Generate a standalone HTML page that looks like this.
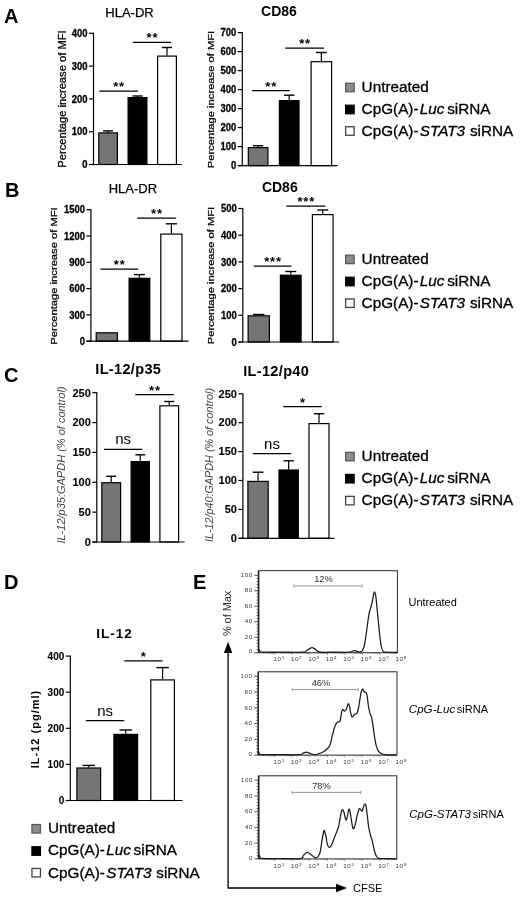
<!DOCTYPE html>
<html><head><meta charset="utf-8"><title>Figure</title>
<style>
html,body{margin:0;padding:0;background:#fff;}
body{width:520px;height:897px;overflow:hidden;}
svg{display:block;font-family:'Liberation Sans', Arial, sans-serif;}
</style></head><body>
<svg width="520" height="897" viewBox="0 0 520 897">
<rect width="520" height="897" fill="#fff"/>
<text x="4" y="22.7" font-size="20" font-weight="bold" font-style="normal" text-anchor="start" fill="#000" >A</text>
<text x="5" y="197.1" font-size="20" font-weight="bold" font-style="normal" text-anchor="start" fill="#000" >B</text>
<text x="3.9" y="382.4" font-size="20" font-weight="bold" font-style="normal" text-anchor="start" fill="#000" >C</text>
<text x="3.9" y="588.7" font-size="20" font-weight="bold" font-style="normal" text-anchor="start" fill="#000" >D</text>
<text x="193.1" y="589.2" font-size="20" font-weight="bold" font-style="normal" text-anchor="start" fill="#000" >E</text>
<text x="129.5" y="17.3" font-size="13" font-weight="normal" font-style="normal" text-anchor="middle" fill="#000" stroke="#000" stroke-width="0.25">HLA-DR</text>
<text transform="translate(66,99) rotate(-90) scale(1,0.94)" font-size="11.2" font-weight="normal" font-style="normal" text-anchor="middle" fill="#000" stroke="#000" stroke-width="0.3">Percentage increase of MFI</text>
<line x1="108.1" y1="132.3" x2="108.1" y2="130.9" stroke="#000" stroke-width="1.2"/>
<line x1="103.14999999999999" y1="130.9" x2="113.05" y2="130.9" stroke="#000" stroke-width="1.4"/>
<rect x="98.8" y="132.9" width="18.599999999999998" height="31.599999999999987" fill="#757575" stroke="#000" stroke-width="1.2"/>
<line x1="137.5" y1="97" x2="137.5" y2="96" stroke="#000" stroke-width="1.2"/>
<line x1="132.5" y1="96" x2="142.5" y2="96" stroke="#000" stroke-width="1.4"/>
<rect x="128.1" y="97.6" width="18.8" height="66.9" fill="#000" stroke="#000" stroke-width="1.2"/>
<line x1="167.0" y1="55.5" x2="167.0" y2="47.5" stroke="#000" stroke-width="1.2"/>
<line x1="162.0" y1="47.5" x2="172.0" y2="47.5" stroke="#000" stroke-width="1.4"/>
<rect x="157.6" y="56.1" width="18.8" height="108.4" fill="#fff" stroke="#000" stroke-width="1.2"/>
<line x1="93.5" y1="32.699999999999996" x2="93.5" y2="165.1" stroke="#000" stroke-width="1.2"/>
<line x1="89.0" y1="164.5" x2="182" y2="164.5" stroke="#000" stroke-width="1.2"/>
<line x1="89.0" y1="164.5" x2="93.5" y2="164.5" stroke="#000" stroke-width="1.2"/>
<text transform="translate(87.5,168.12) scale(0.9,1)" font-size="10.5" font-weight="bold" text-anchor="end" stroke="#000" stroke-width="0.3">0</text>
<line x1="89.0" y1="131.7" x2="93.5" y2="131.7" stroke="#000" stroke-width="1.2"/>
<text transform="translate(87.5,135.32) scale(0.9,1)" font-size="10.5" font-weight="bold" text-anchor="end" stroke="#000" stroke-width="0.3">100</text>
<line x1="89.0" y1="98.9" x2="93.5" y2="98.9" stroke="#000" stroke-width="1.2"/>
<text transform="translate(87.5,102.52) scale(0.9,1)" font-size="10.5" font-weight="bold" text-anchor="end" stroke="#000" stroke-width="0.3">200</text>
<line x1="89.0" y1="66.1" x2="93.5" y2="66.1" stroke="#000" stroke-width="1.2"/>
<text transform="translate(87.5,69.72) scale(0.9,1)" font-size="10.5" font-weight="bold" text-anchor="end" stroke="#000" stroke-width="0.3">300</text>
<line x1="89.0" y1="33.3" x2="93.5" y2="33.3" stroke="#000" stroke-width="1.2"/>
<text transform="translate(87.5,36.92) scale(0.9,1)" font-size="10.5" font-weight="bold" text-anchor="end" stroke="#000" stroke-width="0.3">400</text>
<line x1="99.25" y1="91" x2="138" y2="91" stroke="#000" stroke-width="1.25"/>
<text x="119.025" y="91.2" font-size="13" font-weight="bold" font-style="normal" text-anchor="middle" fill="#000" letter-spacing="0.8">**</text>
<line x1="133" y1="42.25" x2="171" y2="42.25" stroke="#000" stroke-width="1.25"/>
<text x="152.4" y="42.45" font-size="13" font-weight="bold" font-style="normal" text-anchor="middle" fill="#000" letter-spacing="0.8">**</text>
<text x="279" y="16" font-size="14" font-weight="bold" font-style="normal" text-anchor="middle" fill="#000" >CD86</text>
<text transform="translate(213.9,99.5) rotate(-90) scale(1,0.8)" font-size="11.2" font-weight="normal" font-style="normal" text-anchor="middle" fill="#000" stroke="#000" stroke-width="0.3">Percentage increase of MFI</text>
<line x1="258.1" y1="147" x2="258.1" y2="145.7" stroke="#000" stroke-width="1.2"/>
<line x1="252.90000000000003" y1="145.7" x2="263.3" y2="145.7" stroke="#000" stroke-width="1.4"/>
<rect x="248.29999999999998" y="147.6" width="19.600000000000012" height="17.999999999999993" fill="#757575" stroke="#000" stroke-width="1.2"/>
<line x1="289.20000000000005" y1="100" x2="289.20000000000005" y2="95.2" stroke="#000" stroke-width="1.2"/>
<line x1="284.00000000000006" y1="95.2" x2="294.40000000000003" y2="95.2" stroke="#000" stroke-width="1.4"/>
<rect x="279.40000000000003" y="100.6" width="19.600000000000012" height="65.0" fill="#000" stroke="#000" stroke-width="1.2"/>
<line x1="321.35" y1="61.1" x2="321.35" y2="52.5" stroke="#000" stroke-width="1.2"/>
<line x1="315.925" y1="52.5" x2="326.77500000000003" y2="52.5" stroke="#000" stroke-width="1.4"/>
<rect x="311.1" y="61.7" width="20.49999999999999" height="103.9" fill="#fff" stroke="#000" stroke-width="1.2"/>
<line x1="242.3" y1="31.999999999999993" x2="242.3" y2="166.2" stroke="#000" stroke-width="1.2"/>
<line x1="237.8" y1="165.6" x2="337.5" y2="165.6" stroke="#000" stroke-width="1.2"/>
<line x1="237.8" y1="165.6" x2="242.3" y2="165.6" stroke="#000" stroke-width="1.2"/>
<text transform="translate(236.3,169.22) scale(0.9,1)" font-size="10.5" font-weight="bold" text-anchor="end" stroke="#000" stroke-width="0.3">0</text>
<line x1="237.8" y1="146.6" x2="242.3" y2="146.6" stroke="#000" stroke-width="1.2"/>
<text transform="translate(236.3,150.22) scale(0.9,1)" font-size="10.5" font-weight="bold" text-anchor="end" stroke="#000" stroke-width="0.3">100</text>
<line x1="237.8" y1="127.6" x2="242.3" y2="127.6" stroke="#000" stroke-width="1.2"/>
<text transform="translate(236.3,131.22) scale(0.9,1)" font-size="10.5" font-weight="bold" text-anchor="end" stroke="#000" stroke-width="0.3">200</text>
<line x1="237.8" y1="108.6" x2="242.3" y2="108.6" stroke="#000" stroke-width="1.2"/>
<text transform="translate(236.3,112.22) scale(0.9,1)" font-size="10.5" font-weight="bold" text-anchor="end" stroke="#000" stroke-width="0.3">300</text>
<line x1="237.8" y1="89.6" x2="242.3" y2="89.6" stroke="#000" stroke-width="1.2"/>
<text transform="translate(236.3,93.22) scale(0.9,1)" font-size="10.5" font-weight="bold" text-anchor="end" stroke="#000" stroke-width="0.3">400</text>
<line x1="237.8" y1="70.6" x2="242.3" y2="70.6" stroke="#000" stroke-width="1.2"/>
<text transform="translate(236.3,74.22) scale(0.9,1)" font-size="10.5" font-weight="bold" text-anchor="end" stroke="#000" stroke-width="0.3">500</text>
<line x1="237.8" y1="51.599999999999994" x2="242.3" y2="51.599999999999994" stroke="#000" stroke-width="1.2"/>
<text transform="translate(236.3,55.22) scale(0.9,1)" font-size="10.5" font-weight="bold" text-anchor="end" stroke="#000" stroke-width="0.3">600</text>
<line x1="237.8" y1="32.599999999999994" x2="242.3" y2="32.599999999999994" stroke="#000" stroke-width="1.2"/>
<text transform="translate(236.3,36.22) scale(0.9,1)" font-size="10.5" font-weight="bold" text-anchor="end" stroke="#000" stroke-width="0.3">700</text>
<line x1="252" y1="90.6" x2="289.5" y2="90.6" stroke="#000" stroke-width="1.25"/>
<text x="271.15" y="90.8" font-size="13" font-weight="bold" font-style="normal" text-anchor="middle" fill="#000" letter-spacing="0.8">**</text>
<line x1="285.2" y1="48.2" x2="324.1" y2="48.2" stroke="#000" stroke-width="1.25"/>
<text x="305.04999999999995" y="48.400000000000006" font-size="13" font-weight="bold" font-style="normal" text-anchor="middle" fill="#000" letter-spacing="0.8">**</text>
<rect x="345.65" y="83.25" width="8.5" height="8.5" fill="#8c8c8c" stroke="#5a5a5a" stroke-width="1.3"/>
<text x="361.6" y="91.9" font-size="15.3" font-weight="normal" font-style="normal" text-anchor="start" fill="#000" stroke="#000" stroke-width="0.3">Untreated</text>
<rect x="345.65" y="105.25" width="8.5" height="8.5" fill="#000" stroke="#000" stroke-width="1.3"/>
<text x="361.6" y="114.0" font-size="15.3" font-weight="normal" font-style="normal" text-anchor="start" fill="#000" stroke="#000" stroke-width="0.3">CpG(A)-<tspan font-style="italic" x="419.8">Luc</tspan><tspan x="447.20000000000005">siRNA</tspan></text>
<rect x="345.65" y="126.75" width="8.5" height="8.5" fill="#fff" stroke="#444" stroke-width="1.3"/>
<text x="361.6" y="136.1" font-size="15.3" font-weight="normal" font-style="normal" text-anchor="start" fill="#000" stroke="#000" stroke-width="0.3">CpG(A)-<tspan font-style="italic" x="419.8">STAT3</tspan><tspan x="469.90000000000003">siRNA</tspan></text>
<text x="132.9" y="193" font-size="13" font-weight="normal" font-style="normal" text-anchor="middle" fill="#000" stroke="#000" stroke-width="0.25">HLA-DR</text>
<text transform="translate(57.2,276) rotate(-90) scale(1,0.86)" font-size="11.2" font-weight="normal" font-style="normal" text-anchor="middle" fill="#000" stroke="#000" stroke-width="0.3">Percentage increase of MFI</text>
<rect x="96.19999999999999" y="332.8" width="21.200000000000006" height="8.4" fill="#757575" stroke="#000" stroke-width="1.2"/>
<line x1="139.45" y1="277.7" x2="139.45" y2="274.6" stroke="#000" stroke-width="1.2"/>
<line x1="133.975" y1="274.6" x2="144.92499999999998" y2="274.6" stroke="#000" stroke-width="1.4"/>
<rect x="129.1" y="278.3" width="20.700000000000006" height="62.9" fill="#000" stroke="#000" stroke-width="1.2"/>
<line x1="171.39999999999998" y1="233.5" x2="171.39999999999998" y2="223.8" stroke="#000" stroke-width="1.2"/>
<line x1="165.79999999999998" y1="223.8" x2="176.99999999999997" y2="223.8" stroke="#000" stroke-width="1.4"/>
<rect x="160.79999999999998" y="234.1" width="21.200000000000006" height="107.1" fill="#fff" stroke="#000" stroke-width="1.2"/>
<line x1="90.9" y1="209.1" x2="90.9" y2="341.8" stroke="#000" stroke-width="1.2"/>
<line x1="86.4" y1="341.2" x2="188.5" y2="341.2" stroke="#000" stroke-width="1.2"/>
<line x1="86.4" y1="341.2" x2="90.9" y2="341.2" stroke="#000" stroke-width="1.2"/>
<text transform="translate(84.9,344.82) scale(0.9,1)" font-size="10.5" font-weight="bold" text-anchor="end" stroke="#000" stroke-width="0.3">0</text>
<line x1="86.4" y1="314.9" x2="90.9" y2="314.9" stroke="#000" stroke-width="1.2"/>
<text transform="translate(84.9,318.52) scale(0.9,1)" font-size="10.5" font-weight="bold" text-anchor="end" stroke="#000" stroke-width="0.3">300</text>
<line x1="86.4" y1="288.59999999999997" x2="90.9" y2="288.59999999999997" stroke="#000" stroke-width="1.2"/>
<text transform="translate(84.9,292.22) scale(0.9,1)" font-size="10.5" font-weight="bold" text-anchor="end" stroke="#000" stroke-width="0.3">600</text>
<line x1="86.4" y1="262.29999999999995" x2="90.9" y2="262.29999999999995" stroke="#000" stroke-width="1.2"/>
<text transform="translate(84.9,265.92) scale(0.9,1)" font-size="10.5" font-weight="bold" text-anchor="end" stroke="#000" stroke-width="0.3">900</text>
<line x1="86.4" y1="236.0" x2="90.9" y2="236.0" stroke="#000" stroke-width="1.2"/>
<text transform="translate(84.9,239.62) scale(0.9,1)" font-size="10.5" font-weight="bold" text-anchor="end" stroke="#000" stroke-width="0.3">1200</text>
<line x1="86.4" y1="209.7" x2="90.9" y2="209.7" stroke="#000" stroke-width="1.2"/>
<text transform="translate(84.9,213.32) scale(0.9,1)" font-size="10.5" font-weight="bold" text-anchor="end" stroke="#000" stroke-width="0.3">1500</text>
<line x1="100.3" y1="269.2" x2="138.3" y2="269.2" stroke="#000" stroke-width="1.25"/>
<text x="119.70000000000002" y="269.4" font-size="13" font-weight="bold" font-style="normal" text-anchor="middle" fill="#000" letter-spacing="0.8">**</text>
<line x1="137.3" y1="218.2" x2="175.8" y2="218.2" stroke="#000" stroke-width="1.25"/>
<text x="156.95000000000002" y="218.39999999999998" font-size="13" font-weight="bold" font-style="normal" text-anchor="middle" fill="#000" letter-spacing="0.8">**</text>
<text x="279.8" y="191.5" font-size="14" font-weight="bold" font-style="normal" text-anchor="middle" fill="#000" >CD86</text>
<text transform="translate(214.3,275.5) rotate(-90) scale(1,0.78)" font-size="11.2" font-weight="normal" font-style="normal" text-anchor="middle" fill="#000" stroke="#000" stroke-width="0.3">Percentage increase of MFI</text>
<line x1="258.75" y1="315.2" x2="258.75" y2="314.5" stroke="#000" stroke-width="1.2"/>
<line x1="253.125" y1="314.5" x2="264.375" y2="314.5" stroke="#000" stroke-width="1.4"/>
<rect x="248.1" y="315.8" width="21.3" height="26.20000000000001" fill="#757575" stroke="#000" stroke-width="1.2"/>
<line x1="290.75" y1="274.6" x2="290.75" y2="271.5" stroke="#000" stroke-width="1.2"/>
<line x1="285.275" y1="271.5" x2="296.225" y2="271.5" stroke="#000" stroke-width="1.4"/>
<rect x="280.40000000000003" y="275.20000000000005" width="20.699999999999978" height="66.79999999999998" fill="#000" stroke="#000" stroke-width="1.2"/>
<line x1="322.75" y1="214" x2="322.75" y2="210" stroke="#000" stroke-width="1.2"/>
<line x1="317.275" y1="210" x2="328.225" y2="210" stroke="#000" stroke-width="1.4"/>
<rect x="312.40000000000003" y="214.6" width="20.699999999999978" height="127.4" fill="#fff" stroke="#000" stroke-width="1.2"/>
<line x1="242.8" y1="207.9" x2="242.8" y2="342.6" stroke="#000" stroke-width="1.2"/>
<line x1="238.3" y1="342" x2="339" y2="342" stroke="#000" stroke-width="1.2"/>
<line x1="238.3" y1="342.0" x2="242.8" y2="342.0" stroke="#000" stroke-width="1.2"/>
<text transform="translate(236.8,345.62) scale(0.9,1)" font-size="10.5" font-weight="bold" text-anchor="end" stroke="#000" stroke-width="0.3">0</text>
<line x1="238.3" y1="315.3" x2="242.8" y2="315.3" stroke="#000" stroke-width="1.2"/>
<text transform="translate(236.8,318.92) scale(0.9,1)" font-size="10.5" font-weight="bold" text-anchor="end" stroke="#000" stroke-width="0.3">100</text>
<line x1="238.3" y1="288.6" x2="242.8" y2="288.6" stroke="#000" stroke-width="1.2"/>
<text transform="translate(236.8,292.22) scale(0.9,1)" font-size="10.5" font-weight="bold" text-anchor="end" stroke="#000" stroke-width="0.3">200</text>
<line x1="238.3" y1="261.9" x2="242.8" y2="261.9" stroke="#000" stroke-width="1.2"/>
<text transform="translate(236.8,265.52) scale(0.9,1)" font-size="10.5" font-weight="bold" text-anchor="end" stroke="#000" stroke-width="0.3">300</text>
<line x1="238.3" y1="235.2" x2="242.8" y2="235.2" stroke="#000" stroke-width="1.2"/>
<text transform="translate(236.8,238.82) scale(0.9,1)" font-size="10.5" font-weight="bold" text-anchor="end" stroke="#000" stroke-width="0.3">400</text>
<line x1="238.3" y1="208.5" x2="242.8" y2="208.5" stroke="#000" stroke-width="1.2"/>
<text transform="translate(236.8,212.12) scale(0.9,1)" font-size="10.5" font-weight="bold" text-anchor="end" stroke="#000" stroke-width="0.3">500</text>
<line x1="253.7" y1="266" x2="291.5" y2="266" stroke="#000" stroke-width="1.25"/>
<text x="273.0" y="266.2" font-size="13" font-weight="bold" font-style="normal" text-anchor="middle" fill="#000" letter-spacing="0.8">***</text>
<line x1="286.3" y1="206" x2="325.4" y2="206" stroke="#000" stroke-width="1.25"/>
<text x="306.25" y="206.2" font-size="13" font-weight="bold" font-style="normal" text-anchor="middle" fill="#000" letter-spacing="0.8">***</text>
<rect x="345.65" y="255.14999999999998" width="8.5" height="8.5" fill="#8c8c8c" stroke="#5a5a5a" stroke-width="1.3"/>
<text x="361.6" y="263.8" font-size="15.3" font-weight="normal" font-style="normal" text-anchor="start" fill="#000" stroke="#000" stroke-width="0.3">Untreated</text>
<rect x="345.65" y="277.25" width="8.5" height="8.5" fill="#000" stroke="#000" stroke-width="1.3"/>
<text x="361.6" y="286.1" font-size="15.3" font-weight="normal" font-style="normal" text-anchor="start" fill="#000" stroke="#000" stroke-width="0.3">CpG(A)-<tspan font-style="italic" x="419.8">Luc</tspan><tspan x="447.20000000000005">siRNA</tspan></text>
<rect x="345.65" y="298.95" width="8.5" height="8.5" fill="#fff" stroke="#444" stroke-width="1.3"/>
<text x="361.6" y="308.2" font-size="15.3" font-weight="normal" font-style="normal" text-anchor="start" fill="#000" stroke="#000" stroke-width="0.3">CpG(A)-<tspan font-style="italic" x="419.8">STAT3</tspan><tspan x="469.90000000000003">siRNA</tspan></text>
<text x="128.3" y="374.2" font-size="14.5" font-weight="bold" font-style="normal" text-anchor="middle" fill="#000" letter-spacing="0.35">IL-12/p35</text>
<text transform="translate(65,465) rotate(-90) scale(1,1.0)" font-size="11" font-weight="normal" font-style="italic" text-anchor="middle" fill="#444" >IL-12/p35:GAPDH (% of control)</text>
<line x1="111.2" y1="482.1" x2="111.2" y2="476.3" stroke="#000" stroke-width="1.2"/>
<line x1="106.2" y1="476.3" x2="116.2" y2="476.3" stroke="#000" stroke-width="1.4"/>
<rect x="101.8" y="482.70000000000005" width="18.8" height="59.299999999999976" fill="#757575" stroke="#000" stroke-width="1.2"/>
<line x1="140.25" y1="461" x2="140.25" y2="454.8" stroke="#000" stroke-width="1.2"/>
<line x1="135.375" y1="454.8" x2="145.125" y2="454.8" stroke="#000" stroke-width="1.4"/>
<rect x="131.1" y="461.6" width="18.3" height="80.4" fill="#000" stroke="#000" stroke-width="1.2"/>
<line x1="169.25" y1="405.2" x2="169.25" y2="401.5" stroke="#000" stroke-width="1.2"/>
<line x1="164.275" y1="401.5" x2="174.225" y2="401.5" stroke="#000" stroke-width="1.4"/>
<rect x="159.9" y="405.8" width="18.699999999999978" height="136.20000000000002" fill="#fff" stroke="#000" stroke-width="1.2"/>
<line x1="96.8" y1="392.09999999999997" x2="96.8" y2="542.6" stroke="#000" stroke-width="1.2"/>
<line x1="92.3" y1="542" x2="184.6" y2="542" stroke="#000" stroke-width="1.2"/>
<line x1="92.3" y1="542.0" x2="96.8" y2="542.0" stroke="#000" stroke-width="1.2"/>
<text transform="translate(90.8,545.79) scale(1.0,1)" font-size="11" font-weight="bold" text-anchor="end" stroke="#000" stroke-width="0.1">0</text>
<line x1="92.3" y1="512.14" x2="96.8" y2="512.14" stroke="#000" stroke-width="1.2"/>
<text transform="translate(90.8,515.93) scale(1.0,1)" font-size="11" font-weight="bold" text-anchor="end" stroke="#000" stroke-width="0.1">50</text>
<line x1="92.3" y1="482.28" x2="96.8" y2="482.28" stroke="#000" stroke-width="1.2"/>
<text transform="translate(90.8,486.07) scale(1.0,1)" font-size="11" font-weight="bold" text-anchor="end" stroke="#000" stroke-width="0.1">100</text>
<line x1="92.3" y1="452.42" x2="96.8" y2="452.42" stroke="#000" stroke-width="1.2"/>
<text transform="translate(90.8,456.22) scale(1.0,1)" font-size="11" font-weight="bold" text-anchor="end" stroke="#000" stroke-width="0.1">150</text>
<line x1="92.3" y1="422.56" x2="96.8" y2="422.56" stroke="#000" stroke-width="1.2"/>
<text transform="translate(90.8,426.36) scale(1.0,1)" font-size="11" font-weight="bold" text-anchor="end" stroke="#000" stroke-width="0.1">200</text>
<line x1="92.3" y1="392.7" x2="96.8" y2="392.7" stroke="#000" stroke-width="1.2"/>
<text transform="translate(90.8,396.50) scale(1.0,1)" font-size="11" font-weight="bold" text-anchor="end" stroke="#000" stroke-width="0.1">250</text>
<line x1="104" y1="449.4" x2="142.3" y2="449.4" stroke="#000" stroke-width="1.25"/>
<text x="123.15" y="444.4" font-size="15" font-weight="normal" font-style="normal" text-anchor="middle" fill="#000" >ns</text>
<line x1="135.3" y1="394.5" x2="173.7" y2="394.5" stroke="#000" stroke-width="1.25"/>
<text x="154.9" y="394.7" font-size="13" font-weight="bold" font-style="normal" text-anchor="middle" fill="#000" letter-spacing="0.8">**</text>
<text x="276.2" y="376.2" font-size="14.5" font-weight="bold" font-style="normal" text-anchor="middle" fill="#000" letter-spacing="0.35">IL-12/p40</text>
<text transform="translate(213,465) rotate(-90) scale(1,1.0)" font-size="10.8" font-weight="normal" font-style="italic" text-anchor="middle" fill="#444" >IL-12/p40:GAPDH (% of control)</text>
<line x1="258.05" y1="480.8" x2="258.05" y2="472.2" stroke="#000" stroke-width="1.2"/>
<line x1="252.675" y1="472.2" x2="263.425" y2="472.2" stroke="#000" stroke-width="1.4"/>
<rect x="247.9" y="481.40000000000003" width="20.3" height="56.89999999999994" fill="#757575" stroke="#000" stroke-width="1.2"/>
<line x1="288.65" y1="469.4" x2="288.65" y2="460.8" stroke="#000" stroke-width="1.2"/>
<line x1="283.525" y1="460.8" x2="293.775" y2="460.8" stroke="#000" stroke-width="1.4"/>
<rect x="279.0" y="470.0" width="19.3" height="68.29999999999998" fill="#000" stroke="#000" stroke-width="1.2"/>
<line x1="319.0" y1="423" x2="319.0" y2="413.7" stroke="#000" stroke-width="1.2"/>
<line x1="313.7" y1="413.7" x2="324.3" y2="413.7" stroke="#000" stroke-width="1.4"/>
<rect x="309.0" y="423.6" width="20.000000000000046" height="114.69999999999996" fill="#fff" stroke="#000" stroke-width="1.2"/>
<line x1="242.9" y1="393.19999999999993" x2="242.9" y2="538.9" stroke="#000" stroke-width="1.2"/>
<line x1="238.4" y1="538.3" x2="334.4" y2="538.3" stroke="#000" stroke-width="1.2"/>
<line x1="238.4" y1="538.3" x2="242.9" y2="538.3" stroke="#000" stroke-width="1.2"/>
<text transform="translate(236.9,542.09) scale(1.0,1)" font-size="11" font-weight="bold" text-anchor="end" stroke="#000" stroke-width="0.1">0</text>
<line x1="238.4" y1="509.4" x2="242.9" y2="509.4" stroke="#000" stroke-width="1.2"/>
<text transform="translate(236.9,513.19) scale(1.0,1)" font-size="11" font-weight="bold" text-anchor="end" stroke="#000" stroke-width="0.1">50</text>
<line x1="238.4" y1="480.49999999999994" x2="242.9" y2="480.49999999999994" stroke="#000" stroke-width="1.2"/>
<text transform="translate(236.9,484.29) scale(1.0,1)" font-size="11" font-weight="bold" text-anchor="end" stroke="#000" stroke-width="0.1">100</text>
<line x1="238.4" y1="451.59999999999997" x2="242.9" y2="451.59999999999997" stroke="#000" stroke-width="1.2"/>
<text transform="translate(236.9,455.39) scale(1.0,1)" font-size="11" font-weight="bold" text-anchor="end" stroke="#000" stroke-width="0.1">150</text>
<line x1="238.4" y1="422.69999999999993" x2="242.9" y2="422.69999999999993" stroke="#000" stroke-width="1.2"/>
<text transform="translate(236.9,426.49) scale(1.0,1)" font-size="11" font-weight="bold" text-anchor="end" stroke="#000" stroke-width="0.1">200</text>
<line x1="238.4" y1="393.79999999999995" x2="242.9" y2="393.79999999999995" stroke="#000" stroke-width="1.2"/>
<text transform="translate(236.9,397.59) scale(1.0,1)" font-size="11" font-weight="bold" text-anchor="end" stroke="#000" stroke-width="0.1">250</text>
<line x1="253" y1="453.7" x2="291" y2="453.7" stroke="#000" stroke-width="1.25"/>
<text x="272.0" y="448.7" font-size="15" font-weight="normal" font-style="normal" text-anchor="middle" fill="#000" >ns</text>
<line x1="283.2" y1="406.6" x2="321.7" y2="406.6" stroke="#000" stroke-width="1.25"/>
<text x="302.84999999999997" y="406.8" font-size="13" font-weight="bold" font-style="normal" text-anchor="middle" fill="#000" letter-spacing="0.8">*</text>
<rect x="345.65" y="452.35" width="8.5" height="8.5" fill="#8c8c8c" stroke="#5a5a5a" stroke-width="1.3"/>
<text x="361.6" y="461.0" font-size="15.3" font-weight="normal" font-style="normal" text-anchor="start" fill="#000" stroke="#000" stroke-width="0.3">Untreated</text>
<rect x="345.65" y="474.45" width="8.5" height="8.5" fill="#000" stroke="#000" stroke-width="1.3"/>
<text x="361.6" y="483.2" font-size="15.3" font-weight="normal" font-style="normal" text-anchor="start" fill="#000" stroke="#000" stroke-width="0.3">CpG(A)-<tspan font-style="italic" x="419.8">Luc</tspan><tspan x="447.20000000000005">siRNA</tspan></text>
<rect x="345.65" y="496.35" width="8.5" height="8.5" fill="#fff" stroke="#444" stroke-width="1.3"/>
<text x="361.6" y="505.4" font-size="15.3" font-weight="normal" font-style="normal" text-anchor="start" fill="#000" stroke="#000" stroke-width="0.3">CpG(A)-<tspan font-style="italic" x="419.8">STAT3</tspan><tspan x="469.90000000000003">siRNA</tspan></text>
<text x="114.4" y="637.8" font-size="13.5" font-weight="bold" font-style="normal" text-anchor="middle" fill="#000" letter-spacing="1">IL-12</text>
<text transform="translate(39,729) rotate(-90) scale(1,1.0)" font-size="11" font-weight="bold" font-style="normal" text-anchor="middle" fill="#000" letter-spacing="1">IL-12 (pg/ml)</text>
<line x1="88.75" y1="767.4" x2="88.75" y2="765.4" stroke="#000" stroke-width="1.2"/>
<line x1="82.525" y1="765.4" x2="94.975" y2="765.4" stroke="#000" stroke-width="1.4"/>
<rect x="76.89999999999999" y="768.0" width="23.700000000000006" height="32.50000000000002" fill="#757575" stroke="#000" stroke-width="1.2"/>
<line x1="125.75" y1="733.8" x2="125.75" y2="730" stroke="#000" stroke-width="1.2"/>
<line x1="119.525" y1="730" x2="131.975" y2="730" stroke="#000" stroke-width="1.4"/>
<rect x="113.89999999999999" y="734.4" width="23.699999999999992" height="66.10000000000005" fill="#000" stroke="#000" stroke-width="1.2"/>
<line x1="162.6" y1="679.3" x2="162.6" y2="667.6" stroke="#000" stroke-width="1.2"/>
<line x1="156.39999999999998" y1="667.6" x2="168.8" y2="667.6" stroke="#000" stroke-width="1.4"/>
<rect x="150.79999999999998" y="679.9" width="23.600000000000012" height="120.60000000000005" fill="#fff" stroke="#000" stroke-width="1.2"/>
<line x1="70.3" y1="655.5" x2="70.3" y2="801.1" stroke="#000" stroke-width="1.2"/>
<line x1="65.8" y1="800.5" x2="182.5" y2="800.5" stroke="#000" stroke-width="1.2"/>
<line x1="65.8" y1="800.5" x2="70.3" y2="800.5" stroke="#000" stroke-width="1.2"/>
<text transform="translate(64.3,803.95) scale(1.0,1)" font-size="10" font-weight="bold" text-anchor="end" stroke="#000" stroke-width="0.1">0</text>
<line x1="65.8" y1="764.4" x2="70.3" y2="764.4" stroke="#000" stroke-width="1.2"/>
<text transform="translate(64.3,767.85) scale(1.0,1)" font-size="10" font-weight="bold" text-anchor="end" stroke="#000" stroke-width="0.1">100</text>
<line x1="65.8" y1="728.3" x2="70.3" y2="728.3" stroke="#000" stroke-width="1.2"/>
<text transform="translate(64.3,731.75) scale(1.0,1)" font-size="10" font-weight="bold" text-anchor="end" stroke="#000" stroke-width="0.1">200</text>
<line x1="65.8" y1="692.2" x2="70.3" y2="692.2" stroke="#000" stroke-width="1.2"/>
<text transform="translate(64.3,695.65) scale(1.0,1)" font-size="10" font-weight="bold" text-anchor="end" stroke="#000" stroke-width="0.1">300</text>
<line x1="65.8" y1="656.1" x2="70.3" y2="656.1" stroke="#000" stroke-width="1.2"/>
<text transform="translate(64.3,659.55) scale(1.0,1)" font-size="10" font-weight="bold" text-anchor="end" stroke="#000" stroke-width="0.1">400</text>
<line x1="85.8" y1="720.6" x2="124.3" y2="720.6" stroke="#000" stroke-width="1.25"/>
<text x="105.05" y="715.6" font-size="15" font-weight="normal" font-style="normal" text-anchor="middle" fill="#000" >ns</text>
<line x1="124.2" y1="660.9" x2="162.5" y2="660.9" stroke="#000" stroke-width="1.25"/>
<text x="143.75" y="661.1" font-size="13" font-weight="bold" font-style="normal" text-anchor="middle" fill="#000" letter-spacing="0.8">*</text>
<rect x="31.95" y="824.55" width="8.5" height="8.5" fill="#8c8c8c" stroke="#5a5a5a" stroke-width="1.3"/>
<text x="48.0" y="833.0" font-size="15.3" font-weight="normal" font-style="normal" text-anchor="start" fill="#000" stroke="#000" stroke-width="0.3">Untreated</text>
<rect x="31.95" y="846.75" width="8.5" height="8.5" fill="#000" stroke="#000" stroke-width="1.3"/>
<text x="48.0" y="855.3" font-size="15.3" font-weight="normal" font-style="normal" text-anchor="start" fill="#000" stroke="#000" stroke-width="0.3">CpG(A)-<tspan font-style="italic" x="106.2">Luc</tspan><tspan x="133.6">siRNA</tspan></text>
<rect x="31.95" y="868.45" width="8.5" height="8.5" fill="#fff" stroke="#444" stroke-width="1.3"/>
<text x="48.0" y="877.6" font-size="15.3" font-weight="normal" font-style="normal" text-anchor="start" fill="#000" stroke="#000" stroke-width="0.3">CpG(A)-<tspan font-style="italic" x="106.2">STAT3</tspan><tspan x="156.3">siRNA</tspan></text>
<rect x="258.7" y="570.7" width="138.7" height="82.0" fill="none" stroke="#2a2a2a" stroke-width="1"/>
<line x1="258.5" y1="570.7" x2="258.5" y2="652.7" stroke="#222" stroke-width="1.5"/>
<line x1="254.5" y1="652.7" x2="258.7" y2="652.7" stroke="#333" stroke-width="0.9"/>
<text transform="translate(252.89999999999998,653.40) scale(1.3,1)" font-size="4.8" text-anchor="end" fill="#333" letter-spacing="0.45">0</text>
<line x1="256.59999999999997" y1="649.604" x2="258.7" y2="649.604" stroke="#333" stroke-width="0.8"/>
<line x1="256.59999999999997" y1="646.508" x2="258.7" y2="646.508" stroke="#333" stroke-width="0.8"/>
<line x1="256.59999999999997" y1="643.412" x2="258.7" y2="643.412" stroke="#333" stroke-width="0.8"/>
<line x1="256.59999999999997" y1="640.316" x2="258.7" y2="640.316" stroke="#333" stroke-width="0.8"/>
<line x1="254.5" y1="637.22" x2="258.7" y2="637.22" stroke="#333" stroke-width="0.9"/>
<text transform="translate(252.89999999999998,638.92) scale(1.3,1)" font-size="4.8" text-anchor="end" fill="#333" letter-spacing="0.45">20</text>
<line x1="256.59999999999997" y1="634.124" x2="258.7" y2="634.124" stroke="#333" stroke-width="0.8"/>
<line x1="256.59999999999997" y1="631.028" x2="258.7" y2="631.028" stroke="#333" stroke-width="0.8"/>
<line x1="256.59999999999997" y1="627.932" x2="258.7" y2="627.932" stroke="#333" stroke-width="0.8"/>
<line x1="256.59999999999997" y1="624.836" x2="258.7" y2="624.836" stroke="#333" stroke-width="0.8"/>
<line x1="254.5" y1="621.74" x2="258.7" y2="621.74" stroke="#333" stroke-width="0.9"/>
<text transform="translate(252.89999999999998,623.44) scale(1.3,1)" font-size="4.8" text-anchor="end" fill="#333" letter-spacing="0.45">40</text>
<line x1="256.59999999999997" y1="618.644" x2="258.7" y2="618.644" stroke="#333" stroke-width="0.8"/>
<line x1="256.59999999999997" y1="615.548" x2="258.7" y2="615.548" stroke="#333" stroke-width="0.8"/>
<line x1="256.59999999999997" y1="612.452" x2="258.7" y2="612.452" stroke="#333" stroke-width="0.8"/>
<line x1="256.59999999999997" y1="609.356" x2="258.7" y2="609.356" stroke="#333" stroke-width="0.8"/>
<line x1="254.5" y1="606.26" x2="258.7" y2="606.26" stroke="#333" stroke-width="0.9"/>
<text transform="translate(252.89999999999998,607.96) scale(1.3,1)" font-size="4.8" text-anchor="end" fill="#333" letter-spacing="0.45">60</text>
<line x1="256.59999999999997" y1="603.164" x2="258.7" y2="603.164" stroke="#333" stroke-width="0.8"/>
<line x1="256.59999999999997" y1="600.068" x2="258.7" y2="600.068" stroke="#333" stroke-width="0.8"/>
<line x1="256.59999999999997" y1="596.972" x2="258.7" y2="596.972" stroke="#333" stroke-width="0.8"/>
<line x1="256.59999999999997" y1="593.876" x2="258.7" y2="593.876" stroke="#333" stroke-width="0.8"/>
<line x1="254.5" y1="590.78" x2="258.7" y2="590.78" stroke="#333" stroke-width="0.9"/>
<text transform="translate(252.89999999999998,592.48) scale(1.3,1)" font-size="4.8" text-anchor="end" fill="#333" letter-spacing="0.45">80</text>
<line x1="256.59999999999997" y1="587.684" x2="258.7" y2="587.684" stroke="#333" stroke-width="0.8"/>
<line x1="256.59999999999997" y1="584.588" x2="258.7" y2="584.588" stroke="#333" stroke-width="0.8"/>
<line x1="256.59999999999997" y1="581.492" x2="258.7" y2="581.492" stroke="#333" stroke-width="0.8"/>
<line x1="256.59999999999997" y1="578.396" x2="258.7" y2="578.396" stroke="#333" stroke-width="0.8"/>
<line x1="254.5" y1="575.3" x2="258.7" y2="575.3" stroke="#333" stroke-width="0.9"/>
<text transform="translate(252.89999999999998,577.00) scale(1.3,1)" font-size="4.8" text-anchor="end" fill="#333" letter-spacing="0.45">100</text>
<text transform="translate(273.45,661.30) scale(1.3,1)" font-size="4.8" fill="#333" letter-spacing="0.4">10<tspan dy="-2" dx="0.2" font-size="3.6">1</tspan></text>
<text transform="translate(290.90,661.30) scale(1.3,1)" font-size="4.8" fill="#333" letter-spacing="0.4">10<tspan dy="-2" dx="0.2" font-size="3.6">2</tspan></text>
<text transform="translate(308.35,661.30) scale(1.3,1)" font-size="4.8" fill="#333" letter-spacing="0.4">10<tspan dy="-2" dx="0.2" font-size="3.6">3</tspan></text>
<text transform="translate(325.80,661.30) scale(1.3,1)" font-size="4.8" fill="#333" letter-spacing="0.4">10<tspan dy="-2" dx="0.2" font-size="3.6">4</tspan></text>
<text transform="translate(343.25,661.30) scale(1.3,1)" font-size="4.8" fill="#333" letter-spacing="0.4">10<tspan dy="-2" dx="0.2" font-size="3.6">5</tspan></text>
<text transform="translate(360.70,661.30) scale(1.3,1)" font-size="4.8" fill="#333" letter-spacing="0.4">10<tspan dy="-2" dx="0.2" font-size="3.6">6</tspan></text>
<text transform="translate(378.15,661.30) scale(1.3,1)" font-size="4.8" fill="#333" letter-spacing="0.4">10<tspan dy="-2" dx="0.2" font-size="3.6">7</tspan></text>
<text transform="translate(395.60,661.30) scale(1.3,1)" font-size="4.8" fill="#333" letter-spacing="0.4">10<tspan dy="-2" dx="0.2" font-size="3.6">8</tspan></text>
<line x1="262.9529734243365" y1="652.7" x2="262.9529734243365" y2="653.9000000000001" stroke="#555" stroke-width="0.5"/>
<line x1="266.0257658948582" y1="652.7" x2="266.0257658948582" y2="653.9000000000001" stroke="#555" stroke-width="0.5"/>
<line x1="268.20594684867297" y1="652.7" x2="268.20594684867297" y2="653.9000000000001" stroke="#555" stroke-width="0.5"/>
<line x1="269.8970265756636" y1="652.7" x2="269.8970265756636" y2="653.9000000000001" stroke="#555" stroke-width="0.5"/>
<line x1="271.27873931919464" y1="652.7" x2="271.27873931919464" y2="653.9000000000001" stroke="#555" stroke-width="0.5"/>
<line x1="272.4469607982488" y1="652.7" x2="272.4469607982488" y2="653.9000000000001" stroke="#555" stroke-width="0.5"/>
<line x1="273.4589202730095" y1="652.7" x2="273.4589202730095" y2="653.9000000000001" stroke="#555" stroke-width="0.5"/>
<line x1="274.35153178971626" y1="652.7" x2="274.35153178971626" y2="653.9000000000001" stroke="#555" stroke-width="0.5"/>
<line x1="275.15000000000003" y1="652.7" x2="275.15000000000003" y2="654.9000000000001" stroke="#555" stroke-width="0.5"/>
<line x1="280.4029734243365" y1="652.7" x2="280.4029734243365" y2="653.9000000000001" stroke="#555" stroke-width="0.5"/>
<line x1="283.47576589485817" y1="652.7" x2="283.47576589485817" y2="653.9000000000001" stroke="#555" stroke-width="0.5"/>
<line x1="285.65594684867295" y1="652.7" x2="285.65594684867295" y2="653.9000000000001" stroke="#555" stroke-width="0.5"/>
<line x1="287.34702657566356" y1="652.7" x2="287.34702657566356" y2="653.9000000000001" stroke="#555" stroke-width="0.5"/>
<line x1="288.72873931919463" y1="652.7" x2="288.72873931919463" y2="653.9000000000001" stroke="#555" stroke-width="0.5"/>
<line x1="289.8969607982488" y1="652.7" x2="289.8969607982488" y2="653.9000000000001" stroke="#555" stroke-width="0.5"/>
<line x1="290.90892027300947" y1="652.7" x2="290.90892027300947" y2="653.9000000000001" stroke="#555" stroke-width="0.5"/>
<line x1="291.80153178971625" y1="652.7" x2="291.80153178971625" y2="653.9000000000001" stroke="#555" stroke-width="0.5"/>
<line x1="292.6" y1="652.7" x2="292.6" y2="654.9000000000001" stroke="#555" stroke-width="0.5"/>
<line x1="297.8529734243365" y1="652.7" x2="297.8529734243365" y2="653.9000000000001" stroke="#555" stroke-width="0.5"/>
<line x1="300.92576589485816" y1="652.7" x2="300.92576589485816" y2="653.9000000000001" stroke="#555" stroke-width="0.5"/>
<line x1="303.10594684867294" y1="652.7" x2="303.10594684867294" y2="653.9000000000001" stroke="#555" stroke-width="0.5"/>
<line x1="304.79702657566355" y1="652.7" x2="304.79702657566355" y2="653.9000000000001" stroke="#555" stroke-width="0.5"/>
<line x1="306.1787393191946" y1="652.7" x2="306.1787393191946" y2="653.9000000000001" stroke="#555" stroke-width="0.5"/>
<line x1="307.3469607982488" y1="652.7" x2="307.3469607982488" y2="653.9000000000001" stroke="#555" stroke-width="0.5"/>
<line x1="308.35892027300946" y1="652.7" x2="308.35892027300946" y2="653.9000000000001" stroke="#555" stroke-width="0.5"/>
<line x1="309.25153178971624" y1="652.7" x2="309.25153178971624" y2="653.9000000000001" stroke="#555" stroke-width="0.5"/>
<line x1="310.05" y1="652.7" x2="310.05" y2="654.9000000000001" stroke="#555" stroke-width="0.5"/>
<line x1="315.30297342433647" y1="652.7" x2="315.30297342433647" y2="653.9000000000001" stroke="#555" stroke-width="0.5"/>
<line x1="318.37576589485815" y1="652.7" x2="318.37576589485815" y2="653.9000000000001" stroke="#555" stroke-width="0.5"/>
<line x1="320.55594684867293" y1="652.7" x2="320.55594684867293" y2="653.9000000000001" stroke="#555" stroke-width="0.5"/>
<line x1="322.24702657566354" y1="652.7" x2="322.24702657566354" y2="653.9000000000001" stroke="#555" stroke-width="0.5"/>
<line x1="323.6287393191946" y1="652.7" x2="323.6287393191946" y2="653.9000000000001" stroke="#555" stroke-width="0.5"/>
<line x1="324.7969607982488" y1="652.7" x2="324.7969607982488" y2="653.9000000000001" stroke="#555" stroke-width="0.5"/>
<line x1="325.80892027300945" y1="652.7" x2="325.80892027300945" y2="653.9000000000001" stroke="#555" stroke-width="0.5"/>
<line x1="326.7015317897162" y1="652.7" x2="326.7015317897162" y2="653.9000000000001" stroke="#555" stroke-width="0.5"/>
<line x1="327.5" y1="652.7" x2="327.5" y2="654.9000000000001" stroke="#555" stroke-width="0.5"/>
<line x1="332.75297342433646" y1="652.7" x2="332.75297342433646" y2="653.9000000000001" stroke="#555" stroke-width="0.5"/>
<line x1="335.82576589485814" y1="652.7" x2="335.82576589485814" y2="653.9000000000001" stroke="#555" stroke-width="0.5"/>
<line x1="338.0059468486729" y1="652.7" x2="338.0059468486729" y2="653.9000000000001" stroke="#555" stroke-width="0.5"/>
<line x1="339.69702657566353" y1="652.7" x2="339.69702657566353" y2="653.9000000000001" stroke="#555" stroke-width="0.5"/>
<line x1="341.0787393191946" y1="652.7" x2="341.0787393191946" y2="653.9000000000001" stroke="#555" stroke-width="0.5"/>
<line x1="342.2469607982488" y1="652.7" x2="342.2469607982488" y2="653.9000000000001" stroke="#555" stroke-width="0.5"/>
<line x1="343.25892027300944" y1="652.7" x2="343.25892027300944" y2="653.9000000000001" stroke="#555" stroke-width="0.5"/>
<line x1="344.1515317897162" y1="652.7" x2="344.1515317897162" y2="653.9000000000001" stroke="#555" stroke-width="0.5"/>
<line x1="344.95000000000005" y1="652.7" x2="344.95000000000005" y2="654.9000000000001" stroke="#555" stroke-width="0.5"/>
<line x1="350.2029734243365" y1="652.7" x2="350.2029734243365" y2="653.9000000000001" stroke="#555" stroke-width="0.5"/>
<line x1="353.2757658948582" y1="652.7" x2="353.2757658948582" y2="653.9000000000001" stroke="#555" stroke-width="0.5"/>
<line x1="355.45594684867297" y1="652.7" x2="355.45594684867297" y2="653.9000000000001" stroke="#555" stroke-width="0.5"/>
<line x1="357.1470265756636" y1="652.7" x2="357.1470265756636" y2="653.9000000000001" stroke="#555" stroke-width="0.5"/>
<line x1="358.52873931919464" y1="652.7" x2="358.52873931919464" y2="653.9000000000001" stroke="#555" stroke-width="0.5"/>
<line x1="359.6969607982488" y1="652.7" x2="359.6969607982488" y2="653.9000000000001" stroke="#555" stroke-width="0.5"/>
<line x1="360.7089202730095" y1="652.7" x2="360.7089202730095" y2="653.9000000000001" stroke="#555" stroke-width="0.5"/>
<line x1="361.60153178971626" y1="652.7" x2="361.60153178971626" y2="653.9000000000001" stroke="#555" stroke-width="0.5"/>
<line x1="362.40000000000003" y1="652.7" x2="362.40000000000003" y2="654.9000000000001" stroke="#555" stroke-width="0.5"/>
<line x1="367.6529734243365" y1="652.7" x2="367.6529734243365" y2="653.9000000000001" stroke="#555" stroke-width="0.5"/>
<line x1="370.72576589485817" y1="652.7" x2="370.72576589485817" y2="653.9000000000001" stroke="#555" stroke-width="0.5"/>
<line x1="372.90594684867295" y1="652.7" x2="372.90594684867295" y2="653.9000000000001" stroke="#555" stroke-width="0.5"/>
<line x1="374.59702657566356" y1="652.7" x2="374.59702657566356" y2="653.9000000000001" stroke="#555" stroke-width="0.5"/>
<line x1="375.97873931919463" y1="652.7" x2="375.97873931919463" y2="653.9000000000001" stroke="#555" stroke-width="0.5"/>
<line x1="377.1469607982488" y1="652.7" x2="377.1469607982488" y2="653.9000000000001" stroke="#555" stroke-width="0.5"/>
<line x1="378.15892027300947" y1="652.7" x2="378.15892027300947" y2="653.9000000000001" stroke="#555" stroke-width="0.5"/>
<line x1="379.05153178971625" y1="652.7" x2="379.05153178971625" y2="653.9000000000001" stroke="#555" stroke-width="0.5"/>
<line x1="379.85" y1="652.7" x2="379.85" y2="654.9000000000001" stroke="#555" stroke-width="0.5"/>
<line x1="385.1029734243365" y1="652.7" x2="385.1029734243365" y2="653.9000000000001" stroke="#555" stroke-width="0.5"/>
<line x1="388.17576589485816" y1="652.7" x2="388.17576589485816" y2="653.9000000000001" stroke="#555" stroke-width="0.5"/>
<line x1="390.35594684867294" y1="652.7" x2="390.35594684867294" y2="653.9000000000001" stroke="#555" stroke-width="0.5"/>
<line x1="392.04702657566355" y1="652.7" x2="392.04702657566355" y2="653.9000000000001" stroke="#555" stroke-width="0.5"/>
<line x1="393.4287393191946" y1="652.7" x2="393.4287393191946" y2="653.9000000000001" stroke="#555" stroke-width="0.5"/>
<line x1="394.5969607982488" y1="652.7" x2="394.5969607982488" y2="653.9000000000001" stroke="#555" stroke-width="0.5"/>
<line x1="395.60892027300946" y1="652.7" x2="395.60892027300946" y2="653.9000000000001" stroke="#555" stroke-width="0.5"/>
<line x1="396.50153178971624" y1="652.7" x2="396.50153178971624" y2="653.9000000000001" stroke="#555" stroke-width="0.5"/>
<path d="M259.0,649.3C259.2,649.6 259.4,650.8 260.0,651.3C260.6,651.8 259.2,651.9 262.5,652.0C265.8,652.1 273.2,652.2 280.0,652.2C286.8,652.2 298.7,652.4 303.0,652.2C307.3,652.0 304.9,651.6 306.0,651.0C307.1,650.4 308.5,649.1 309.5,648.6C310.5,648.1 311.2,647.7 312.0,647.7C312.8,647.7 313.6,648.1 314.5,648.6C315.4,649.1 316.5,650.4 317.5,651.0C318.5,651.6 317.6,652.0 320.5,652.2C323.4,652.4 330.2,652.2 335.0,652.2C339.8,652.2 346.2,652.4 349.0,652.2C351.8,652.1 351.1,651.6 352.0,651.3C352.9,651.0 353.7,650.5 354.6,650.5C355.5,650.5 356.6,651.2 357.5,651.5C358.4,651.8 359.4,652.2 360.3,652.0C361.2,651.8 362.1,651.3 362.8,650.0C363.5,648.7 364.0,646.7 364.6,644.0C365.2,641.3 365.7,637.7 366.2,634.0C366.7,630.3 367.3,625.6 367.8,622.0C368.3,618.4 368.8,614.8 369.3,612.5C369.8,610.2 370.2,609.6 370.6,608.0C371.1,606.4 371.5,605.1 372.0,603.0C372.5,600.9 373.0,597.3 373.4,595.5C373.8,593.7 374.2,591.9 374.6,592.0C375.0,592.1 375.4,593.3 375.8,596.0C376.2,598.7 376.6,603.8 377.0,608.0C377.4,612.2 377.8,616.3 378.3,621.0C378.8,625.7 379.3,631.8 379.8,636.0C380.3,640.2 380.8,644.0 381.3,646.5C381.8,649.0 382.3,650.0 383.0,651.0C383.7,652.0 383.1,652.0 385.5,652.2C387.9,652.4 395.5,652.3 397.5,652.3" fill="none" stroke="#1a1a1a" stroke-width="1.25" stroke-linejoin="round"/>
<line x1="294" y1="585.9" x2="362" y2="585.9" stroke="#8a8a8a" stroke-width="0.9"/>
<line x1="294" y1="584.3" x2="294" y2="587.5" stroke="#8a8a8a" stroke-width="0.9"/>
<line x1="362" y1="584.3" x2="362" y2="587.5" stroke="#8a8a8a" stroke-width="0.9"/>
<text x="323.5" y="582.4" font-size="9.3" font-weight="normal" font-style="normal" text-anchor="middle" fill="#333" >12%</text>
<rect x="258.4" y="671.8" width="138.60000000000002" height="83.30000000000007" fill="none" stroke="#2a2a2a" stroke-width="1"/>
<line x1="258.2" y1="671.8" x2="258.2" y2="755.1" stroke="#222" stroke-width="1.5"/>
<line x1="254.2" y1="755.1" x2="258.4" y2="755.1" stroke="#333" stroke-width="0.9"/>
<text transform="translate(252.59999999999997,755.80) scale(1.3,1)" font-size="4.8" text-anchor="end" fill="#333" letter-spacing="0.45">0</text>
<line x1="256.29999999999995" y1="751.948" x2="258.4" y2="751.948" stroke="#333" stroke-width="0.8"/>
<line x1="256.29999999999995" y1="748.796" x2="258.4" y2="748.796" stroke="#333" stroke-width="0.8"/>
<line x1="256.29999999999995" y1="745.644" x2="258.4" y2="745.644" stroke="#333" stroke-width="0.8"/>
<line x1="256.29999999999995" y1="742.492" x2="258.4" y2="742.492" stroke="#333" stroke-width="0.8"/>
<line x1="254.2" y1="739.34" x2="258.4" y2="739.34" stroke="#333" stroke-width="0.9"/>
<text transform="translate(252.59999999999997,741.04) scale(1.3,1)" font-size="4.8" text-anchor="end" fill="#333" letter-spacing="0.45">20</text>
<line x1="256.29999999999995" y1="736.188" x2="258.4" y2="736.188" stroke="#333" stroke-width="0.8"/>
<line x1="256.29999999999995" y1="733.0360000000001" x2="258.4" y2="733.0360000000001" stroke="#333" stroke-width="0.8"/>
<line x1="256.29999999999995" y1="729.884" x2="258.4" y2="729.884" stroke="#333" stroke-width="0.8"/>
<line x1="256.29999999999995" y1="726.732" x2="258.4" y2="726.732" stroke="#333" stroke-width="0.8"/>
<line x1="254.2" y1="723.58" x2="258.4" y2="723.58" stroke="#333" stroke-width="0.9"/>
<text transform="translate(252.59999999999997,725.28) scale(1.3,1)" font-size="4.8" text-anchor="end" fill="#333" letter-spacing="0.45">40</text>
<line x1="256.29999999999995" y1="720.428" x2="258.4" y2="720.428" stroke="#333" stroke-width="0.8"/>
<line x1="256.29999999999995" y1="717.2760000000001" x2="258.4" y2="717.2760000000001" stroke="#333" stroke-width="0.8"/>
<line x1="256.29999999999995" y1="714.124" x2="258.4" y2="714.124" stroke="#333" stroke-width="0.8"/>
<line x1="256.29999999999995" y1="710.972" x2="258.4" y2="710.972" stroke="#333" stroke-width="0.8"/>
<line x1="254.2" y1="707.8199999999999" x2="258.4" y2="707.8199999999999" stroke="#333" stroke-width="0.9"/>
<text transform="translate(252.59999999999997,709.52) scale(1.3,1)" font-size="4.8" text-anchor="end" fill="#333" letter-spacing="0.45">60</text>
<line x1="256.29999999999995" y1="704.6679999999999" x2="258.4" y2="704.6679999999999" stroke="#333" stroke-width="0.8"/>
<line x1="256.29999999999995" y1="701.516" x2="258.4" y2="701.516" stroke="#333" stroke-width="0.8"/>
<line x1="256.29999999999995" y1="698.3639999999999" x2="258.4" y2="698.3639999999999" stroke="#333" stroke-width="0.8"/>
<line x1="256.29999999999995" y1="695.2119999999999" x2="258.4" y2="695.2119999999999" stroke="#333" stroke-width="0.8"/>
<line x1="254.2" y1="692.06" x2="258.4" y2="692.06" stroke="#333" stroke-width="0.9"/>
<text transform="translate(252.59999999999997,693.76) scale(1.3,1)" font-size="4.8" text-anchor="end" fill="#333" letter-spacing="0.45">80</text>
<line x1="256.29999999999995" y1="688.9079999999999" x2="258.4" y2="688.9079999999999" stroke="#333" stroke-width="0.8"/>
<line x1="256.29999999999995" y1="685.756" x2="258.4" y2="685.756" stroke="#333" stroke-width="0.8"/>
<line x1="256.29999999999995" y1="682.6039999999999" x2="258.4" y2="682.6039999999999" stroke="#333" stroke-width="0.8"/>
<line x1="256.29999999999995" y1="679.4519999999999" x2="258.4" y2="679.4519999999999" stroke="#333" stroke-width="0.8"/>
<line x1="254.2" y1="676.3" x2="258.4" y2="676.3" stroke="#333" stroke-width="0.9"/>
<text transform="translate(252.59999999999997,678.00) scale(1.3,1)" font-size="4.8" text-anchor="end" fill="#333" letter-spacing="0.45">100</text>
<text transform="translate(273.45,763.70) scale(1.3,1)" font-size="4.8" fill="#333" letter-spacing="0.4">10<tspan dy="-2" dx="0.2" font-size="3.6">1</tspan></text>
<text transform="translate(290.90,763.70) scale(1.3,1)" font-size="4.8" fill="#333" letter-spacing="0.4">10<tspan dy="-2" dx="0.2" font-size="3.6">2</tspan></text>
<text transform="translate(308.35,763.70) scale(1.3,1)" font-size="4.8" fill="#333" letter-spacing="0.4">10<tspan dy="-2" dx="0.2" font-size="3.6">3</tspan></text>
<text transform="translate(325.80,763.70) scale(1.3,1)" font-size="4.8" fill="#333" letter-spacing="0.4">10<tspan dy="-2" dx="0.2" font-size="3.6">4</tspan></text>
<text transform="translate(343.25,763.70) scale(1.3,1)" font-size="4.8" fill="#333" letter-spacing="0.4">10<tspan dy="-2" dx="0.2" font-size="3.6">5</tspan></text>
<text transform="translate(360.70,763.70) scale(1.3,1)" font-size="4.8" fill="#333" letter-spacing="0.4">10<tspan dy="-2" dx="0.2" font-size="3.6">6</tspan></text>
<text transform="translate(378.15,763.70) scale(1.3,1)" font-size="4.8" fill="#333" letter-spacing="0.4">10<tspan dy="-2" dx="0.2" font-size="3.6">7</tspan></text>
<text transform="translate(395.60,763.70) scale(1.3,1)" font-size="4.8" fill="#333" letter-spacing="0.4">10<tspan dy="-2" dx="0.2" font-size="3.6">8</tspan></text>
<line x1="262.9529734243365" y1="755.1" x2="262.9529734243365" y2="756.3000000000001" stroke="#555" stroke-width="0.5"/>
<line x1="266.0257658948582" y1="755.1" x2="266.0257658948582" y2="756.3000000000001" stroke="#555" stroke-width="0.5"/>
<line x1="268.20594684867297" y1="755.1" x2="268.20594684867297" y2="756.3000000000001" stroke="#555" stroke-width="0.5"/>
<line x1="269.8970265756636" y1="755.1" x2="269.8970265756636" y2="756.3000000000001" stroke="#555" stroke-width="0.5"/>
<line x1="271.27873931919464" y1="755.1" x2="271.27873931919464" y2="756.3000000000001" stroke="#555" stroke-width="0.5"/>
<line x1="272.4469607982488" y1="755.1" x2="272.4469607982488" y2="756.3000000000001" stroke="#555" stroke-width="0.5"/>
<line x1="273.4589202730095" y1="755.1" x2="273.4589202730095" y2="756.3000000000001" stroke="#555" stroke-width="0.5"/>
<line x1="274.35153178971626" y1="755.1" x2="274.35153178971626" y2="756.3000000000001" stroke="#555" stroke-width="0.5"/>
<line x1="275.15000000000003" y1="755.1" x2="275.15000000000003" y2="757.3000000000001" stroke="#555" stroke-width="0.5"/>
<line x1="280.4029734243365" y1="755.1" x2="280.4029734243365" y2="756.3000000000001" stroke="#555" stroke-width="0.5"/>
<line x1="283.47576589485817" y1="755.1" x2="283.47576589485817" y2="756.3000000000001" stroke="#555" stroke-width="0.5"/>
<line x1="285.65594684867295" y1="755.1" x2="285.65594684867295" y2="756.3000000000001" stroke="#555" stroke-width="0.5"/>
<line x1="287.34702657566356" y1="755.1" x2="287.34702657566356" y2="756.3000000000001" stroke="#555" stroke-width="0.5"/>
<line x1="288.72873931919463" y1="755.1" x2="288.72873931919463" y2="756.3000000000001" stroke="#555" stroke-width="0.5"/>
<line x1="289.8969607982488" y1="755.1" x2="289.8969607982488" y2="756.3000000000001" stroke="#555" stroke-width="0.5"/>
<line x1="290.90892027300947" y1="755.1" x2="290.90892027300947" y2="756.3000000000001" stroke="#555" stroke-width="0.5"/>
<line x1="291.80153178971625" y1="755.1" x2="291.80153178971625" y2="756.3000000000001" stroke="#555" stroke-width="0.5"/>
<line x1="292.6" y1="755.1" x2="292.6" y2="757.3000000000001" stroke="#555" stroke-width="0.5"/>
<line x1="297.8529734243365" y1="755.1" x2="297.8529734243365" y2="756.3000000000001" stroke="#555" stroke-width="0.5"/>
<line x1="300.92576589485816" y1="755.1" x2="300.92576589485816" y2="756.3000000000001" stroke="#555" stroke-width="0.5"/>
<line x1="303.10594684867294" y1="755.1" x2="303.10594684867294" y2="756.3000000000001" stroke="#555" stroke-width="0.5"/>
<line x1="304.79702657566355" y1="755.1" x2="304.79702657566355" y2="756.3000000000001" stroke="#555" stroke-width="0.5"/>
<line x1="306.1787393191946" y1="755.1" x2="306.1787393191946" y2="756.3000000000001" stroke="#555" stroke-width="0.5"/>
<line x1="307.3469607982488" y1="755.1" x2="307.3469607982488" y2="756.3000000000001" stroke="#555" stroke-width="0.5"/>
<line x1="308.35892027300946" y1="755.1" x2="308.35892027300946" y2="756.3000000000001" stroke="#555" stroke-width="0.5"/>
<line x1="309.25153178971624" y1="755.1" x2="309.25153178971624" y2="756.3000000000001" stroke="#555" stroke-width="0.5"/>
<line x1="310.05" y1="755.1" x2="310.05" y2="757.3000000000001" stroke="#555" stroke-width="0.5"/>
<line x1="315.30297342433647" y1="755.1" x2="315.30297342433647" y2="756.3000000000001" stroke="#555" stroke-width="0.5"/>
<line x1="318.37576589485815" y1="755.1" x2="318.37576589485815" y2="756.3000000000001" stroke="#555" stroke-width="0.5"/>
<line x1="320.55594684867293" y1="755.1" x2="320.55594684867293" y2="756.3000000000001" stroke="#555" stroke-width="0.5"/>
<line x1="322.24702657566354" y1="755.1" x2="322.24702657566354" y2="756.3000000000001" stroke="#555" stroke-width="0.5"/>
<line x1="323.6287393191946" y1="755.1" x2="323.6287393191946" y2="756.3000000000001" stroke="#555" stroke-width="0.5"/>
<line x1="324.7969607982488" y1="755.1" x2="324.7969607982488" y2="756.3000000000001" stroke="#555" stroke-width="0.5"/>
<line x1="325.80892027300945" y1="755.1" x2="325.80892027300945" y2="756.3000000000001" stroke="#555" stroke-width="0.5"/>
<line x1="326.7015317897162" y1="755.1" x2="326.7015317897162" y2="756.3000000000001" stroke="#555" stroke-width="0.5"/>
<line x1="327.5" y1="755.1" x2="327.5" y2="757.3000000000001" stroke="#555" stroke-width="0.5"/>
<line x1="332.75297342433646" y1="755.1" x2="332.75297342433646" y2="756.3000000000001" stroke="#555" stroke-width="0.5"/>
<line x1="335.82576589485814" y1="755.1" x2="335.82576589485814" y2="756.3000000000001" stroke="#555" stroke-width="0.5"/>
<line x1="338.0059468486729" y1="755.1" x2="338.0059468486729" y2="756.3000000000001" stroke="#555" stroke-width="0.5"/>
<line x1="339.69702657566353" y1="755.1" x2="339.69702657566353" y2="756.3000000000001" stroke="#555" stroke-width="0.5"/>
<line x1="341.0787393191946" y1="755.1" x2="341.0787393191946" y2="756.3000000000001" stroke="#555" stroke-width="0.5"/>
<line x1="342.2469607982488" y1="755.1" x2="342.2469607982488" y2="756.3000000000001" stroke="#555" stroke-width="0.5"/>
<line x1="343.25892027300944" y1="755.1" x2="343.25892027300944" y2="756.3000000000001" stroke="#555" stroke-width="0.5"/>
<line x1="344.1515317897162" y1="755.1" x2="344.1515317897162" y2="756.3000000000001" stroke="#555" stroke-width="0.5"/>
<line x1="344.95000000000005" y1="755.1" x2="344.95000000000005" y2="757.3000000000001" stroke="#555" stroke-width="0.5"/>
<line x1="350.2029734243365" y1="755.1" x2="350.2029734243365" y2="756.3000000000001" stroke="#555" stroke-width="0.5"/>
<line x1="353.2757658948582" y1="755.1" x2="353.2757658948582" y2="756.3000000000001" stroke="#555" stroke-width="0.5"/>
<line x1="355.45594684867297" y1="755.1" x2="355.45594684867297" y2="756.3000000000001" stroke="#555" stroke-width="0.5"/>
<line x1="357.1470265756636" y1="755.1" x2="357.1470265756636" y2="756.3000000000001" stroke="#555" stroke-width="0.5"/>
<line x1="358.52873931919464" y1="755.1" x2="358.52873931919464" y2="756.3000000000001" stroke="#555" stroke-width="0.5"/>
<line x1="359.6969607982488" y1="755.1" x2="359.6969607982488" y2="756.3000000000001" stroke="#555" stroke-width="0.5"/>
<line x1="360.7089202730095" y1="755.1" x2="360.7089202730095" y2="756.3000000000001" stroke="#555" stroke-width="0.5"/>
<line x1="361.60153178971626" y1="755.1" x2="361.60153178971626" y2="756.3000000000001" stroke="#555" stroke-width="0.5"/>
<line x1="362.40000000000003" y1="755.1" x2="362.40000000000003" y2="757.3000000000001" stroke="#555" stroke-width="0.5"/>
<line x1="367.6529734243365" y1="755.1" x2="367.6529734243365" y2="756.3000000000001" stroke="#555" stroke-width="0.5"/>
<line x1="370.72576589485817" y1="755.1" x2="370.72576589485817" y2="756.3000000000001" stroke="#555" stroke-width="0.5"/>
<line x1="372.90594684867295" y1="755.1" x2="372.90594684867295" y2="756.3000000000001" stroke="#555" stroke-width="0.5"/>
<line x1="374.59702657566356" y1="755.1" x2="374.59702657566356" y2="756.3000000000001" stroke="#555" stroke-width="0.5"/>
<line x1="375.97873931919463" y1="755.1" x2="375.97873931919463" y2="756.3000000000001" stroke="#555" stroke-width="0.5"/>
<line x1="377.1469607982488" y1="755.1" x2="377.1469607982488" y2="756.3000000000001" stroke="#555" stroke-width="0.5"/>
<line x1="378.15892027300947" y1="755.1" x2="378.15892027300947" y2="756.3000000000001" stroke="#555" stroke-width="0.5"/>
<line x1="379.05153178971625" y1="755.1" x2="379.05153178971625" y2="756.3000000000001" stroke="#555" stroke-width="0.5"/>
<line x1="379.85" y1="755.1" x2="379.85" y2="757.3000000000001" stroke="#555" stroke-width="0.5"/>
<line x1="385.1029734243365" y1="755.1" x2="385.1029734243365" y2="756.3000000000001" stroke="#555" stroke-width="0.5"/>
<line x1="388.17576589485816" y1="755.1" x2="388.17576589485816" y2="756.3000000000001" stroke="#555" stroke-width="0.5"/>
<line x1="390.35594684867294" y1="755.1" x2="390.35594684867294" y2="756.3000000000001" stroke="#555" stroke-width="0.5"/>
<line x1="392.04702657566355" y1="755.1" x2="392.04702657566355" y2="756.3000000000001" stroke="#555" stroke-width="0.5"/>
<line x1="393.4287393191946" y1="755.1" x2="393.4287393191946" y2="756.3000000000001" stroke="#555" stroke-width="0.5"/>
<line x1="394.5969607982488" y1="755.1" x2="394.5969607982488" y2="756.3000000000001" stroke="#555" stroke-width="0.5"/>
<line x1="395.60892027300946" y1="755.1" x2="395.60892027300946" y2="756.3000000000001" stroke="#555" stroke-width="0.5"/>
<line x1="396.50153178971624" y1="755.1" x2="396.50153178971624" y2="756.3000000000001" stroke="#555" stroke-width="0.5"/>
<path d="M258.5,751.0C258.7,751.5 258.9,753.2 259.5,753.8C260.1,754.4 258.6,754.5 262.0,754.6C265.4,754.8 273.8,754.7 280.0,754.7C286.2,754.7 295.2,754.9 299.0,754.7C302.8,754.5 301.2,754.0 302.5,753.5C303.8,753.0 305.2,752.0 306.5,752.0C307.8,752.0 309.2,753.1 310.5,753.5C311.8,753.9 312.8,754.5 314.0,754.6C315.2,754.7 316.4,754.5 318.0,754.0C319.6,753.5 322.0,752.5 323.5,751.7C325.0,750.9 325.9,750.1 327.0,749.0C328.1,747.9 329.1,747.2 330.0,745.0C330.9,742.8 331.5,738.7 332.3,735.7C333.1,732.7 333.8,729.4 334.6,727.2C335.4,725.0 336.1,723.5 336.9,722.6C337.7,721.7 338.6,722.1 339.2,721.8C339.8,721.4 339.9,722.0 340.3,720.5C340.7,719.0 341.1,714.4 341.5,712.6C341.9,710.8 342.1,709.8 342.6,709.5C343.1,709.2 344.0,711.1 344.6,711.1C345.2,711.1 345.7,710.4 346.2,709.5C346.7,708.6 347.0,706.7 347.4,705.7C347.8,704.7 348.1,703.6 348.5,703.7C348.9,703.8 349.1,704.9 349.5,706.5C349.9,708.1 350.3,711.6 350.8,713.4C351.3,715.2 351.7,717.1 352.3,717.2C352.9,717.3 353.8,714.8 354.6,714.2C355.4,713.6 356.2,714.4 356.9,713.4C357.5,712.4 358.0,710.4 358.5,708.0C359.0,705.6 359.6,701.5 360.0,698.8C360.4,696.1 360.8,693.4 361.2,691.8C361.6,690.2 362.2,689.3 362.6,689.2C363.0,689.1 363.4,690.6 363.8,691.1C364.2,691.6 364.5,692.0 364.9,692.3C365.3,692.5 365.8,691.9 366.2,692.6C366.6,693.3 366.8,694.2 367.2,696.5C367.6,698.8 368.0,703.7 368.5,706.5C369.0,709.3 369.5,711.6 370.0,713.4C370.5,715.2 371.0,715.0 371.5,717.2C372.0,719.4 372.6,723.2 373.1,726.5C373.6,729.8 374.1,734.0 374.6,737.2C375.1,740.4 375.6,743.4 376.2,745.7C376.8,748.0 377.6,749.8 378.5,751.1C379.4,752.5 380.5,753.2 381.5,753.8C382.5,754.4 382.1,754.4 384.6,754.6C387.1,754.8 394.5,754.8 396.5,754.8" fill="none" stroke="#1a1a1a" stroke-width="1.25" stroke-linejoin="round"/>
<line x1="292.3" y1="689.6" x2="358.2" y2="689.6" stroke="#8a8a8a" stroke-width="0.9"/>
<line x1="292.3" y1="688.0" x2="292.3" y2="691.2" stroke="#8a8a8a" stroke-width="0.9"/>
<line x1="358.2" y1="688.0" x2="358.2" y2="691.2" stroke="#8a8a8a" stroke-width="0.9"/>
<text x="321" y="686.3" font-size="9.3" font-weight="normal" font-style="normal" text-anchor="middle" fill="#333" >46%</text>
<rect x="258.8" y="775.8" width="138.0" height="83.10000000000002" fill="none" stroke="#2a2a2a" stroke-width="1"/>
<line x1="258.6" y1="775.8" x2="258.6" y2="858.9" stroke="#222" stroke-width="1.5"/>
<line x1="254.60000000000002" y1="858.9" x2="258.8" y2="858.9" stroke="#333" stroke-width="0.9"/>
<text transform="translate(253.0,859.60) scale(1.3,1)" font-size="4.8" text-anchor="end" fill="#333" letter-spacing="0.45">0</text>
<line x1="256.7" y1="855.752" x2="258.8" y2="855.752" stroke="#333" stroke-width="0.8"/>
<line x1="256.7" y1="852.6039999999999" x2="258.8" y2="852.6039999999999" stroke="#333" stroke-width="0.8"/>
<line x1="256.7" y1="849.456" x2="258.8" y2="849.456" stroke="#333" stroke-width="0.8"/>
<line x1="256.7" y1="846.308" x2="258.8" y2="846.308" stroke="#333" stroke-width="0.8"/>
<line x1="254.60000000000002" y1="843.16" x2="258.8" y2="843.16" stroke="#333" stroke-width="0.9"/>
<text transform="translate(253.0,844.86) scale(1.3,1)" font-size="4.8" text-anchor="end" fill="#333" letter-spacing="0.45">20</text>
<line x1="256.7" y1="840.012" x2="258.8" y2="840.012" stroke="#333" stroke-width="0.8"/>
<line x1="256.7" y1="836.8639999999999" x2="258.8" y2="836.8639999999999" stroke="#333" stroke-width="0.8"/>
<line x1="256.7" y1="833.716" x2="258.8" y2="833.716" stroke="#333" stroke-width="0.8"/>
<line x1="256.7" y1="830.568" x2="258.8" y2="830.568" stroke="#333" stroke-width="0.8"/>
<line x1="254.60000000000002" y1="827.42" x2="258.8" y2="827.42" stroke="#333" stroke-width="0.9"/>
<text transform="translate(253.0,829.12) scale(1.3,1)" font-size="4.8" text-anchor="end" fill="#333" letter-spacing="0.45">40</text>
<line x1="256.7" y1="824.2719999999999" x2="258.8" y2="824.2719999999999" stroke="#333" stroke-width="0.8"/>
<line x1="256.7" y1="821.1239999999999" x2="258.8" y2="821.1239999999999" stroke="#333" stroke-width="0.8"/>
<line x1="256.7" y1="817.976" x2="258.8" y2="817.976" stroke="#333" stroke-width="0.8"/>
<line x1="256.7" y1="814.828" x2="258.8" y2="814.828" stroke="#333" stroke-width="0.8"/>
<line x1="254.60000000000002" y1="811.6800000000001" x2="258.8" y2="811.6800000000001" stroke="#333" stroke-width="0.9"/>
<text transform="translate(253.0,813.38) scale(1.3,1)" font-size="4.8" text-anchor="end" fill="#333" letter-spacing="0.45">60</text>
<line x1="256.7" y1="808.532" x2="258.8" y2="808.532" stroke="#333" stroke-width="0.8"/>
<line x1="256.7" y1="805.384" x2="258.8" y2="805.384" stroke="#333" stroke-width="0.8"/>
<line x1="256.7" y1="802.2360000000001" x2="258.8" y2="802.2360000000001" stroke="#333" stroke-width="0.8"/>
<line x1="256.7" y1="799.0880000000001" x2="258.8" y2="799.0880000000001" stroke="#333" stroke-width="0.8"/>
<line x1="254.60000000000002" y1="795.94" x2="258.8" y2="795.94" stroke="#333" stroke-width="0.9"/>
<text transform="translate(253.0,797.64) scale(1.3,1)" font-size="4.8" text-anchor="end" fill="#333" letter-spacing="0.45">80</text>
<line x1="256.7" y1="792.792" x2="258.8" y2="792.792" stroke="#333" stroke-width="0.8"/>
<line x1="256.7" y1="789.644" x2="258.8" y2="789.644" stroke="#333" stroke-width="0.8"/>
<line x1="256.7" y1="786.4960000000001" x2="258.8" y2="786.4960000000001" stroke="#333" stroke-width="0.8"/>
<line x1="256.7" y1="783.3480000000001" x2="258.8" y2="783.3480000000001" stroke="#333" stroke-width="0.8"/>
<line x1="254.60000000000002" y1="780.2" x2="258.8" y2="780.2" stroke="#333" stroke-width="0.9"/>
<text transform="translate(253.0,781.90) scale(1.3,1)" font-size="4.8" text-anchor="end" fill="#333" letter-spacing="0.45">100</text>
<text transform="translate(273.45,867.50) scale(1.3,1)" font-size="4.8" fill="#333" letter-spacing="0.4">10<tspan dy="-2" dx="0.2" font-size="3.6">1</tspan></text>
<text transform="translate(290.90,867.50) scale(1.3,1)" font-size="4.8" fill="#333" letter-spacing="0.4">10<tspan dy="-2" dx="0.2" font-size="3.6">2</tspan></text>
<text transform="translate(308.35,867.50) scale(1.3,1)" font-size="4.8" fill="#333" letter-spacing="0.4">10<tspan dy="-2" dx="0.2" font-size="3.6">3</tspan></text>
<text transform="translate(325.80,867.50) scale(1.3,1)" font-size="4.8" fill="#333" letter-spacing="0.4">10<tspan dy="-2" dx="0.2" font-size="3.6">4</tspan></text>
<text transform="translate(343.25,867.50) scale(1.3,1)" font-size="4.8" fill="#333" letter-spacing="0.4">10<tspan dy="-2" dx="0.2" font-size="3.6">5</tspan></text>
<text transform="translate(360.70,867.50) scale(1.3,1)" font-size="4.8" fill="#333" letter-spacing="0.4">10<tspan dy="-2" dx="0.2" font-size="3.6">6</tspan></text>
<text transform="translate(378.15,867.50) scale(1.3,1)" font-size="4.8" fill="#333" letter-spacing="0.4">10<tspan dy="-2" dx="0.2" font-size="3.6">7</tspan></text>
<text transform="translate(395.60,867.50) scale(1.3,1)" font-size="4.8" fill="#333" letter-spacing="0.4">10<tspan dy="-2" dx="0.2" font-size="3.6">8</tspan></text>
<line x1="262.9529734243365" y1="858.9" x2="262.9529734243365" y2="860.1" stroke="#555" stroke-width="0.5"/>
<line x1="266.0257658948582" y1="858.9" x2="266.0257658948582" y2="860.1" stroke="#555" stroke-width="0.5"/>
<line x1="268.20594684867297" y1="858.9" x2="268.20594684867297" y2="860.1" stroke="#555" stroke-width="0.5"/>
<line x1="269.8970265756636" y1="858.9" x2="269.8970265756636" y2="860.1" stroke="#555" stroke-width="0.5"/>
<line x1="271.27873931919464" y1="858.9" x2="271.27873931919464" y2="860.1" stroke="#555" stroke-width="0.5"/>
<line x1="272.4469607982488" y1="858.9" x2="272.4469607982488" y2="860.1" stroke="#555" stroke-width="0.5"/>
<line x1="273.4589202730095" y1="858.9" x2="273.4589202730095" y2="860.1" stroke="#555" stroke-width="0.5"/>
<line x1="274.35153178971626" y1="858.9" x2="274.35153178971626" y2="860.1" stroke="#555" stroke-width="0.5"/>
<line x1="275.15000000000003" y1="858.9" x2="275.15000000000003" y2="861.1" stroke="#555" stroke-width="0.5"/>
<line x1="280.4029734243365" y1="858.9" x2="280.4029734243365" y2="860.1" stroke="#555" stroke-width="0.5"/>
<line x1="283.47576589485817" y1="858.9" x2="283.47576589485817" y2="860.1" stroke="#555" stroke-width="0.5"/>
<line x1="285.65594684867295" y1="858.9" x2="285.65594684867295" y2="860.1" stroke="#555" stroke-width="0.5"/>
<line x1="287.34702657566356" y1="858.9" x2="287.34702657566356" y2="860.1" stroke="#555" stroke-width="0.5"/>
<line x1="288.72873931919463" y1="858.9" x2="288.72873931919463" y2="860.1" stroke="#555" stroke-width="0.5"/>
<line x1="289.8969607982488" y1="858.9" x2="289.8969607982488" y2="860.1" stroke="#555" stroke-width="0.5"/>
<line x1="290.90892027300947" y1="858.9" x2="290.90892027300947" y2="860.1" stroke="#555" stroke-width="0.5"/>
<line x1="291.80153178971625" y1="858.9" x2="291.80153178971625" y2="860.1" stroke="#555" stroke-width="0.5"/>
<line x1="292.6" y1="858.9" x2="292.6" y2="861.1" stroke="#555" stroke-width="0.5"/>
<line x1="297.8529734243365" y1="858.9" x2="297.8529734243365" y2="860.1" stroke="#555" stroke-width="0.5"/>
<line x1="300.92576589485816" y1="858.9" x2="300.92576589485816" y2="860.1" stroke="#555" stroke-width="0.5"/>
<line x1="303.10594684867294" y1="858.9" x2="303.10594684867294" y2="860.1" stroke="#555" stroke-width="0.5"/>
<line x1="304.79702657566355" y1="858.9" x2="304.79702657566355" y2="860.1" stroke="#555" stroke-width="0.5"/>
<line x1="306.1787393191946" y1="858.9" x2="306.1787393191946" y2="860.1" stroke="#555" stroke-width="0.5"/>
<line x1="307.3469607982488" y1="858.9" x2="307.3469607982488" y2="860.1" stroke="#555" stroke-width="0.5"/>
<line x1="308.35892027300946" y1="858.9" x2="308.35892027300946" y2="860.1" stroke="#555" stroke-width="0.5"/>
<line x1="309.25153178971624" y1="858.9" x2="309.25153178971624" y2="860.1" stroke="#555" stroke-width="0.5"/>
<line x1="310.05" y1="858.9" x2="310.05" y2="861.1" stroke="#555" stroke-width="0.5"/>
<line x1="315.30297342433647" y1="858.9" x2="315.30297342433647" y2="860.1" stroke="#555" stroke-width="0.5"/>
<line x1="318.37576589485815" y1="858.9" x2="318.37576589485815" y2="860.1" stroke="#555" stroke-width="0.5"/>
<line x1="320.55594684867293" y1="858.9" x2="320.55594684867293" y2="860.1" stroke="#555" stroke-width="0.5"/>
<line x1="322.24702657566354" y1="858.9" x2="322.24702657566354" y2="860.1" stroke="#555" stroke-width="0.5"/>
<line x1="323.6287393191946" y1="858.9" x2="323.6287393191946" y2="860.1" stroke="#555" stroke-width="0.5"/>
<line x1="324.7969607982488" y1="858.9" x2="324.7969607982488" y2="860.1" stroke="#555" stroke-width="0.5"/>
<line x1="325.80892027300945" y1="858.9" x2="325.80892027300945" y2="860.1" stroke="#555" stroke-width="0.5"/>
<line x1="326.7015317897162" y1="858.9" x2="326.7015317897162" y2="860.1" stroke="#555" stroke-width="0.5"/>
<line x1="327.5" y1="858.9" x2="327.5" y2="861.1" stroke="#555" stroke-width="0.5"/>
<line x1="332.75297342433646" y1="858.9" x2="332.75297342433646" y2="860.1" stroke="#555" stroke-width="0.5"/>
<line x1="335.82576589485814" y1="858.9" x2="335.82576589485814" y2="860.1" stroke="#555" stroke-width="0.5"/>
<line x1="338.0059468486729" y1="858.9" x2="338.0059468486729" y2="860.1" stroke="#555" stroke-width="0.5"/>
<line x1="339.69702657566353" y1="858.9" x2="339.69702657566353" y2="860.1" stroke="#555" stroke-width="0.5"/>
<line x1="341.0787393191946" y1="858.9" x2="341.0787393191946" y2="860.1" stroke="#555" stroke-width="0.5"/>
<line x1="342.2469607982488" y1="858.9" x2="342.2469607982488" y2="860.1" stroke="#555" stroke-width="0.5"/>
<line x1="343.25892027300944" y1="858.9" x2="343.25892027300944" y2="860.1" stroke="#555" stroke-width="0.5"/>
<line x1="344.1515317897162" y1="858.9" x2="344.1515317897162" y2="860.1" stroke="#555" stroke-width="0.5"/>
<line x1="344.95000000000005" y1="858.9" x2="344.95000000000005" y2="861.1" stroke="#555" stroke-width="0.5"/>
<line x1="350.2029734243365" y1="858.9" x2="350.2029734243365" y2="860.1" stroke="#555" stroke-width="0.5"/>
<line x1="353.2757658948582" y1="858.9" x2="353.2757658948582" y2="860.1" stroke="#555" stroke-width="0.5"/>
<line x1="355.45594684867297" y1="858.9" x2="355.45594684867297" y2="860.1" stroke="#555" stroke-width="0.5"/>
<line x1="357.1470265756636" y1="858.9" x2="357.1470265756636" y2="860.1" stroke="#555" stroke-width="0.5"/>
<line x1="358.52873931919464" y1="858.9" x2="358.52873931919464" y2="860.1" stroke="#555" stroke-width="0.5"/>
<line x1="359.6969607982488" y1="858.9" x2="359.6969607982488" y2="860.1" stroke="#555" stroke-width="0.5"/>
<line x1="360.7089202730095" y1="858.9" x2="360.7089202730095" y2="860.1" stroke="#555" stroke-width="0.5"/>
<line x1="361.60153178971626" y1="858.9" x2="361.60153178971626" y2="860.1" stroke="#555" stroke-width="0.5"/>
<line x1="362.40000000000003" y1="858.9" x2="362.40000000000003" y2="861.1" stroke="#555" stroke-width="0.5"/>
<line x1="367.6529734243365" y1="858.9" x2="367.6529734243365" y2="860.1" stroke="#555" stroke-width="0.5"/>
<line x1="370.72576589485817" y1="858.9" x2="370.72576589485817" y2="860.1" stroke="#555" stroke-width="0.5"/>
<line x1="372.90594684867295" y1="858.9" x2="372.90594684867295" y2="860.1" stroke="#555" stroke-width="0.5"/>
<line x1="374.59702657566356" y1="858.9" x2="374.59702657566356" y2="860.1" stroke="#555" stroke-width="0.5"/>
<line x1="375.97873931919463" y1="858.9" x2="375.97873931919463" y2="860.1" stroke="#555" stroke-width="0.5"/>
<line x1="377.1469607982488" y1="858.9" x2="377.1469607982488" y2="860.1" stroke="#555" stroke-width="0.5"/>
<line x1="378.15892027300947" y1="858.9" x2="378.15892027300947" y2="860.1" stroke="#555" stroke-width="0.5"/>
<line x1="379.05153178971625" y1="858.9" x2="379.05153178971625" y2="860.1" stroke="#555" stroke-width="0.5"/>
<line x1="379.85" y1="858.9" x2="379.85" y2="861.1" stroke="#555" stroke-width="0.5"/>
<line x1="385.1029734243365" y1="858.9" x2="385.1029734243365" y2="860.1" stroke="#555" stroke-width="0.5"/>
<line x1="388.17576589485816" y1="858.9" x2="388.17576589485816" y2="860.1" stroke="#555" stroke-width="0.5"/>
<line x1="390.35594684867294" y1="858.9" x2="390.35594684867294" y2="860.1" stroke="#555" stroke-width="0.5"/>
<line x1="392.04702657566355" y1="858.9" x2="392.04702657566355" y2="860.1" stroke="#555" stroke-width="0.5"/>
<line x1="393.4287393191946" y1="858.9" x2="393.4287393191946" y2="860.1" stroke="#555" stroke-width="0.5"/>
<line x1="394.5969607982488" y1="858.9" x2="394.5969607982488" y2="860.1" stroke="#555" stroke-width="0.5"/>
<line x1="395.60892027300946" y1="858.9" x2="395.60892027300946" y2="860.1" stroke="#555" stroke-width="0.5"/>
<line x1="396.50153178971624" y1="858.9" x2="396.50153178971624" y2="860.1" stroke="#555" stroke-width="0.5"/>
<path d="M259.0,854.6C259.2,855.0 259.5,856.4 260.0,857.0C260.5,857.6 258.7,858.1 262.0,858.4C265.3,858.7 273.6,858.6 280.0,858.6C286.4,858.6 296.5,859.1 300.4,858.6C304.3,858.1 302.2,856.7 303.3,855.6C304.4,854.5 305.8,852.5 307.1,852.3C308.4,852.1 309.7,853.7 311.0,854.6C312.3,855.5 313.7,857.1 314.8,857.5C315.9,857.9 316.8,857.7 317.7,856.9C318.6,856.1 319.3,855.3 320.0,852.7C320.7,850.1 321.3,844.6 321.9,841.2C322.5,837.8 323.1,834.3 323.5,832.5C323.9,830.7 324.0,830.1 324.4,830.6C324.8,831.1 325.3,833.5 325.8,835.8C326.3,838.1 326.8,842.3 327.4,844.3C328.0,846.2 328.5,847.4 329.2,847.5C329.9,847.6 330.7,846.6 331.5,845.2C332.3,843.8 333.0,841.2 333.8,839.2C334.6,837.2 335.4,835.2 336.2,833.1C337.0,831.0 337.9,829.2 338.5,826.9C339.1,824.6 339.5,821.8 340.0,819.2C340.5,816.6 341.0,813.1 341.5,811.5C342.0,809.9 342.4,809.4 342.8,809.7C343.2,810.0 343.8,811.6 344.2,813.1C344.6,814.6 345.0,817.4 345.4,818.5C345.8,819.6 346.1,820.6 346.5,820.0C346.9,819.4 347.3,816.4 347.7,814.6C348.1,812.8 348.5,809.7 348.9,809.2C349.3,808.7 349.6,809.8 350.0,811.5C350.4,813.2 350.8,816.6 351.2,819.2C351.6,821.8 352.2,825.3 352.6,826.9C353.0,828.5 353.3,829.3 353.8,828.8C354.3,828.3 354.8,826.0 355.4,823.8C356.0,821.6 356.6,817.8 357.2,815.4C357.8,813.0 358.4,810.9 358.8,809.7C359.2,808.6 359.3,808.4 359.7,808.5C360.1,808.6 360.7,809.9 361.1,810.3C361.5,810.7 361.9,811.4 362.3,810.8C362.7,810.2 363.1,808.1 363.5,806.9C363.9,805.7 364.4,803.8 364.9,803.8C365.3,803.8 365.8,804.8 366.2,806.9C366.6,809.0 366.9,812.6 367.4,816.2C367.8,819.8 368.3,825.2 368.9,828.5C369.5,831.8 370.2,833.9 370.8,836.2C371.4,838.5 372.0,839.8 372.6,842.3C373.2,844.8 373.9,849.1 374.6,851.5C375.3,853.9 375.8,855.4 376.6,856.5C377.4,857.6 378.1,857.9 379.2,858.3C380.3,858.7 380.2,858.6 383.1,858.7C386.0,858.8 394.3,858.8 396.5,858.8" fill="none" stroke="#1a1a1a" stroke-width="1.25" stroke-linejoin="round"/>
<line x1="292.1" y1="792.4" x2="360.8" y2="792.4" stroke="#8a8a8a" stroke-width="0.9"/>
<line x1="292.1" y1="790.8" x2="292.1" y2="794.0" stroke="#8a8a8a" stroke-width="0.9"/>
<line x1="360.8" y1="790.8" x2="360.8" y2="794.0" stroke="#8a8a8a" stroke-width="0.9"/>
<text x="321.5" y="788.7" font-size="9.3" font-weight="normal" font-style="normal" text-anchor="middle" fill="#333" >78%</text>
<text x="408.5" y="606" font-size="11" font-weight="normal" font-style="normal" text-anchor="start" fill="#000" >Untreated</text>
<text x="408.8" y="713.3" font-size="11" font-weight="normal" font-style="normal" text-anchor="start" fill="#000" ><tspan font-style="italic" font-size="11.6">CpG-Luc</tspan><tspan dx="1.6">siRNA</tspan></text>
<text x="409.3" y="817.5" font-size="11" font-weight="normal" font-style="normal" text-anchor="start" fill="#000" ><tspan font-style="italic" font-size="11.5">CpG-STAT3</tspan><tspan dx="1.8">siRNA</tspan></text>
<text transform="translate(230.6,613.4) rotate(-90) scale(1,1.0)" font-size="10.9" font-weight="normal" font-style="normal" text-anchor="middle" fill="#222" >% of Max</text>
<polyline points="228.1,652 228.1,888 338,888" fill="none" stroke="#000" stroke-width="1.3"/>
<polygon points="228.1,641.8 223.9,653 232.3,653" fill="#000"/>
<polygon points="347,888 336,883.8 336,892.2" fill="#000"/>
<text x="353" y="892" font-size="11" font-weight="normal" font-style="normal" text-anchor="start" fill="#000" >CFSE</text>
</svg>
</body></html>
